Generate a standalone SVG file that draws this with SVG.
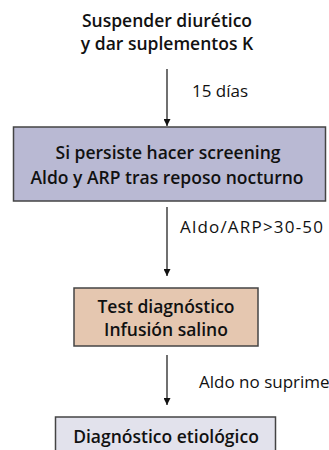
<svg xmlns="http://www.w3.org/2000/svg" width="329" height="450" viewBox="0 0 329 450">
<style>
.b{font-family:"Open Sans","DejaVu Sans",sans-serif;font-weight:600;font-size:17.5px;fill:#111;text-anchor:middle}
.l{font-family:"Open Sans","DejaVu Sans",sans-serif;font-size:17px;fill:#111}
.box{stroke:#444;stroke-width:1.5}
.c{stroke:#111;stroke-width:1.2;fill:none;marker-end:url(#ah)}
</style>
<defs>
<marker id="ah" viewBox="0 0 10 10" refX="10" refY="5" markerUnits="userSpaceOnUse" markerWidth="7" markerHeight="7" orient="auto">
<path d="M0,0 L10,5 L0,10 z" fill="#111"/>
</marker>
</defs>
<rect width="329" height="450" fill="#fff"/>
<g id="start">
<text class="b" x="167" y="27">Suspender diurético</text>
<text class="b" x="167" y="50">y dar suplementos K</text>
</g>
<g id="screening">
<rect class="box" x="13.5" y="127" width="312" height="74" fill="#b9b9d3"/>
<text class="b" x="168" y="159">Si persiste hacer screening</text>
<text class="b" x="167" y="184">Aldo y ARP tras reposo nocturno</text>
</g>
<g id="test">
<rect class="box" x="74" y="288" width="184" height="58" fill="#e5c7b0"/>
<text class="b" x="166" y="313">Test diagnóstico</text>
<text class="b" x="166" y="336">Infusión salino</text>
</g>
<g id="etiologico">
<rect class="box" x="55.5" y="417" width="220" height="40" fill="#e2e2ec"/>
<text class="b" x="166" y="443">Diagnóstico etiológico</text>
</g>
<g id="connectors">
<line class="c" x1="167" y1="69" x2="167" y2="126"/>
<text class="l" x="192" y="97">15 días</text>
<line class="c" x1="167" y1="207" x2="167" y2="276"/>
<text class="l" x="180" y="233" textLength="143" lengthAdjust="spacing">Aldo/ARP&gt;30-50</text>
<line class="c" x1="167" y1="355" x2="167" y2="405"/>
<text class="l" x="199" y="388">Aldo no suprime</text>
</g>
</svg>
